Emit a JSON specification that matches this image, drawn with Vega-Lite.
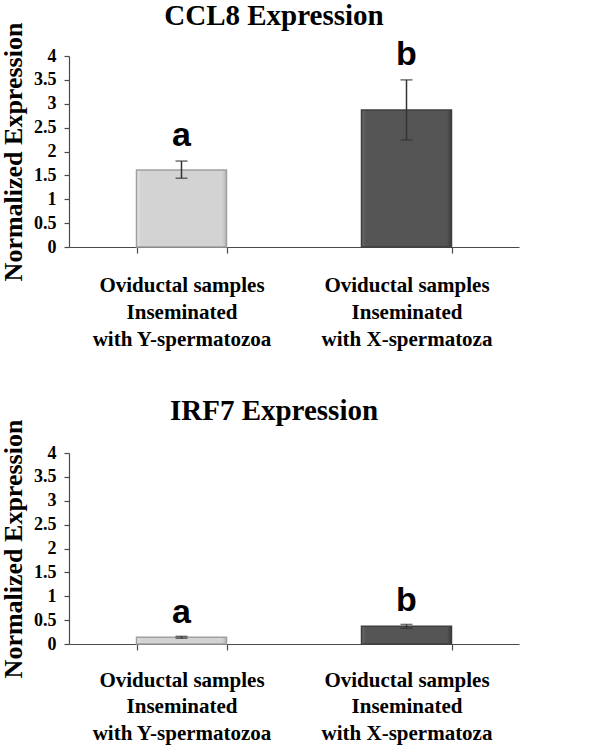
{
  "$schema": "https://vega.github.io/schema/vega-lite/v6.json",
  "background": "white",
  "padding": {"left": 0, "top": 2, "right": 5, "bottom": 2},
  "datasets": {
    "ccl8": [
      {"group": "Oviductal samples|Inseminated|with Y-spermatozoa", "mean": 1.61, "lo": 1.44, "hi": 1.80, "sig": "a"},
      {"group": "Oviductal samples|Inseminated|with X-spermatoza", "mean": 2.87, "lo": 2.24, "hi": 3.50, "sig": "b"}
    ],
    "irf7": [
      {"group": "Oviductal samples|Inseminated|with Y-spermatozoa", "mean": 0.14, "lo": 0.12, "hi": 0.16, "sig": "a"},
      {"group": "Oviductal samples|Inseminated|with X-spermatoza", "mean": 0.37, "lo": 0.33, "hi": 0.41, "sig": "b"}
    ]
  },
  "config": {
    "view": {"stroke": null},
    "font": "Liberation Serif",
    "title": {"font": "Liberation Serif", "fontSize": 29, "fontWeight": "bold", "color": "black", "anchor": "middle", "dx": -20},
    "axis": {
      "domainColor": "#4a4a4a",
      "tickColor": "#4a4a4a",
      "domainWidth": 1.2,
      "tickWidth": 1.2,
      "labelFont": "Liberation Serif",
      "labelFontWeight": "bold",
      "labelColor": "black",
      "titleFont": "Liberation Serif",
      "titleFontWeight": "bold",
      "titleColor": "black",
      "grid": false
    },
    "axisY": {
      "tickCount": 8,
      "labelOverlap": false,
      "labelExpr": "'' + datum.value",
      "tickSize": 5,
      "labelFontSize": 18,
      "labelPadding": 8,
      "titleFontSize": 26,
      "titlePadding": 7
    }
  },
  "vconcat": [
    {
      "title": {"text": "CCL8 Expression", "offset": -9},
      "width": 450,
      "height": 191,
      "data": {"name": "ccl8"},
      "encoding": {
        "x": {
          "field": "group", "type": "nominal", "sort": null,
          "scale": {"paddingInner": 0.6, "paddingOuter": 0.3},
          "axis": {"title": null, "labelAngle": 0, "tickBand": "extent", "tickSize": 6,
                   "labelExpr": "isValid(datum.value) ? split(datum.value, '|') : ''", "labelFontSize": 21, "labelLineHeight": 27, "labelPadding": 21}
        }
      },
      "layer": [
        {
          "transform": [{"filter": "datum.sig == 'a'"}],
          "mark": {"type": "bar", "stroke": "#a0a0a0", "strokeWidth": 1.5,
                   "fill": {"gradient": "linear", "x1": 0, "y1": 0, "x2": 1, "y2": 0,
                            "stops": [{"offset": 0, "color": "#e6e6e6"}, {"offset": 0.05, "color": "#d3d3d3"}, {"offset": 0.95, "color": "#d3d3d3"}, {"offset": 1, "color": "#b5b5b5"}]}},
          "encoding": {"y": {"field": "mean", "type": "quantitative",
            "scale": {"domain": [0, 4]},
            "axis": {"title": "Normalized Expression"}}}
        },
        {
          "transform": [{"filter": "datum.sig == 'b'"}],
          "mark": {"type": "bar", "stroke": "#3f3f3f", "strokeWidth": 1.5,
                   "fill": {"gradient": "linear", "x1": 0, "y1": 0, "x2": 1, "y2": 0,
                            "stops": [{"offset": 0, "color": "#6a6a6a"}, {"offset": 0.05, "color": "#555555"}, {"offset": 0.95, "color": "#555555"}, {"offset": 1, "color": "#3a3a3a"}]}},
          "encoding": {"y": {"field": "mean", "type": "quantitative"}}
        },
        {
          "mark": {"type": "rule", "color": "#333333", "strokeWidth": 1.5},
          "encoding": {"y": {"field": "lo", "type": "quantitative"}, "y2": {"field": "hi"}}
        },
        {
          "mark": {"type": "tick", "color": "#333333", "thickness": 1.5, "size": 12, "orient": "horizontal"},
          "encoding": {"y": {"field": "lo", "type": "quantitative"}}
        },
        {
          "mark": {"type": "tick", "color": "#333333", "thickness": 1.5, "size": 12, "orient": "horizontal"},
          "encoding": {"y": {"field": "hi", "type": "quantitative"}}
        },
        {
          "mark": {"type": "text", "font": "Liberation Sans", "fontWeight": "bold", "fontSize": 34, "baseline": "alphabetic", "dy": -15, "color": "black"},
          "encoding": {"y": {"field": "hi", "type": "quantitative"}, "text": {"field": "sig"}}
        }
      ]
    },
    {
      "title": {"text": "IRF7 Expression", "offset": -7},
      "width": 450,
      "height": 191,
      "data": {"name": "irf7"},
      "encoding": {
        "x": {
          "field": "group", "type": "nominal", "sort": null,
          "scale": {"paddingInner": 0.6, "paddingOuter": 0.3},
          "axis": {"title": null, "labelAngle": 0, "tickBand": "extent", "tickSize": 6,
                   "labelExpr": "isValid(datum.value) ? split(datum.value, '|') : ''", "labelFontSize": 21, "labelLineHeight": 26.5, "labelPadding": 19}
        }
      },
      "layer": [
        {
          "transform": [{"filter": "datum.sig == 'a'"}],
          "mark": {"type": "bar", "stroke": "#a0a0a0", "strokeWidth": 1.5,
                   "fill": {"gradient": "linear", "x1": 0, "y1": 0, "x2": 1, "y2": 0,
                            "stops": [{"offset": 0, "color": "#e6e6e6"}, {"offset": 0.05, "color": "#d3d3d3"}, {"offset": 0.95, "color": "#d3d3d3"}, {"offset": 1, "color": "#b5b5b5"}]}},
          "encoding": {"y": {"field": "mean", "type": "quantitative",
            "scale": {"domain": [0, 4]},
            "axis": {"title": "Normalized Expression"}}}
        },
        {
          "transform": [{"filter": "datum.sig == 'b'"}],
          "mark": {"type": "bar", "stroke": "#3f3f3f", "strokeWidth": 1.5,
                   "fill": {"gradient": "linear", "x1": 0, "y1": 0, "x2": 1, "y2": 0,
                            "stops": [{"offset": 0, "color": "#6a6a6a"}, {"offset": 0.05, "color": "#555555"}, {"offset": 0.95, "color": "#555555"}, {"offset": 1, "color": "#3a3a3a"}]}},
          "encoding": {"y": {"field": "mean", "type": "quantitative"}}
        },
        {
          "mark": {"type": "rule", "color": "#333333", "strokeWidth": 1.5},
          "encoding": {"y": {"field": "lo", "type": "quantitative"}, "y2": {"field": "hi"}}
        },
        {
          "mark": {"type": "tick", "color": "#333333", "thickness": 1.5, "size": 12, "orient": "horizontal"},
          "encoding": {"y": {"field": "lo", "type": "quantitative"}}
        },
        {
          "mark": {"type": "tick", "color": "#333333", "thickness": 1.5, "size": 12, "orient": "horizontal"},
          "encoding": {"y": {"field": "hi", "type": "quantitative"}}
        },
        {
          "mark": {"type": "text", "font": "Liberation Sans", "fontWeight": "bold", "fontSize": 34, "baseline": "alphabetic", "dy": -13, "color": "black"},
          "encoding": {"y": {"field": "hi", "type": "quantitative"}, "text": {"field": "sig"}}
        }
      ]
    }
  ],
  "spacing": 48
}
